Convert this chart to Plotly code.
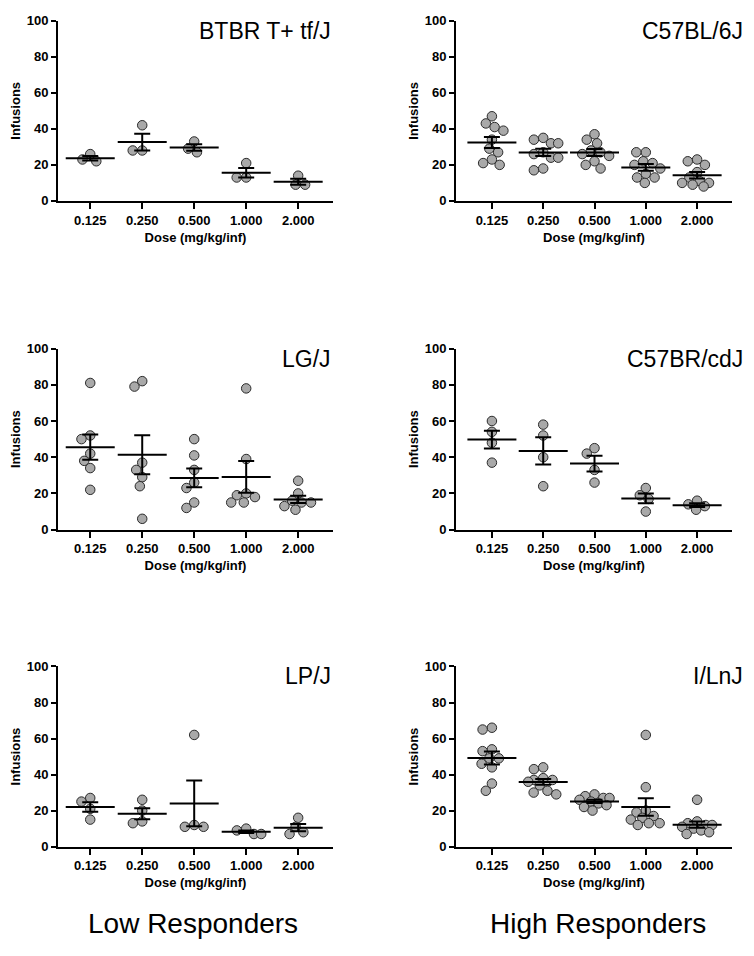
import numpy as np
import plotly.graph_objects as go

# ---------------- data ----------------
doses = ["0.125", "0.250", "0.500", "1.000", "2.000"]
strains = ["BTBR T+ tf/J", "C57BL/6J", "LG/J", "C57BR/cdJ", "LP/J", "I/LnJ"]
group_labels = ["Low Responders", "High Responders"]
y_ticks = [0, 20, 40, 60, 80, 100]

btbr = [[26, 22, 23], [42, 28, 28], [33, 27, 29], [21, 13, 13], [14, 9, 9]]
c57bl6 = [[47, 43, 41, 39, 34, 29, 27, 23, 21, 20],
          [35, 34, 32, 32, 27, 26, 24, 24, 18, 17],
          [37, 34, 32, 28, 27, 26, 25, 22, 20, 18],
          [27, 27, 22, 21, 20, 18, 15, 13, 13, 10],
          [23, 22, 20, 16, 13, 11, 10, 10, 9, 8]]
lgj = [[81, 52, 50, 42, 38, 34, 22],
       [82, 79, 37, 33, 29, 24, 6],
       [50, 41, 33, 26, 23, 15, 12],
       [78, 39, 20, 19, 18, 15, 15],
       [27, 20, 16, 15, 15, 13, 11]]
c57br = [[60, 54, 48, 37], [58, 52, 40, 24], [45, 42, 33, 26], [23, 19, 17, 10], [16, 14, 13, 11]]
lpj = [[27, 25, 21, 15], [26, 20, 14, 13], [62, 12, 11, 11], [10, 9, 7, 7], [16, 11, 8, 7]]
ilnj = [[66, 65, 54, 53, 49, 49, 46, 44, 35, 31],
        [44, 43, 38, 37, 37, 36, 34, 31, 30, 29],
        [29, 28, 27, 27, 26, 25, 24, 23, 22, 20],
        [62, 33, 20, 19, 17, 16, 15, 13, 13, 12],
        [26, 14, 13, 12, 12, 11, 10, 9, 8, 7]]

panels = [btbr, c57bl6, lgj, c57br, lpj, ilnj]

# ---------------- layout geometry ----------------
W, H = 754, 956
col_x = [(58, 333), (456, 732)]
row_y = [(14, 197), (347, 531), (670, 853)]
x_ranges = [[-0.62, 4.67], [-0.70, 4.68]]
DIAM = 9.5   # collision spacing (px) for the swarm layout
MAXW = 15.0  # maximum horizontal spread (px) of a column of points


def swarm_offsets(vals, px_per_unit_y, px_per_cat):
    """Compact beeswarm: x offsets (category units) for the values."""
    order = sorted(range(len(vals)), key=lambda i: -vals[i])
    placed = []
    offs = [0.0] * len(vals)

    def ok(c, y):
        return all((c - px) ** 2 + (y - py) ** 2 >= DIAM ** 2 - 1e-6 for px, py in placed)

    for i in order:
        y = vals[i] * px_per_unit_y
        cands = [0.0]
        for (px, py) in placed:
            dy = abs(py - y)
            if dy < DIAM:
                dx = np.sqrt(DIAM ** 2 - dy ** 2) + 0.01
                cands += [px + dx, px - dx]
        cands = sorted([c for c in cands if abs(c) <= MAXW], key=lambda c: (abs(c), c))
        best = None
        for c in cands:
            if ok(c, y):
                best = c
                break
        if best is None:
            grid = np.linspace(-MAXW, MAXW, 61)
            score = [min(np.hypot(g - px, y - py) for px, py in placed) - 0.01 * abs(g) for g in grid]
            best = float(grid[int(np.argmax(score))])
        placed.append((best, y))
        offs[i] = best
    return [o / px_per_cat for o in offs]


fig = go.Figure()
FONT = "Liberation Sans, Arial, sans-serif"

for k, (name, data) in enumerate(zip(strains, panels)):
    r, c = divmod(k, 2)
    ax = "" if k == 0 else str(k + 1)
    x0, x1 = col_x[c]
    yt, yb = row_y[r]
    xr = x_ranges[c]
    px_per_cat = (x1 - x0) / (xr[1] - xr[0])
    px_per_unit = (yb - yt) / 100.0

    xs, ys = [], []
    for j, vals in enumerate(data):
        offs = swarm_offsets(vals, px_per_unit, px_per_cat)
        xs += [j + o for o in offs]
        ys += vals
    fig.add_trace(go.Scatter(
        x=xs, y=ys, mode="markers", xaxis="x" + ax, yaxis="y" + ax,
        marker=dict(size=9.5, color="#a9a9a9", line=dict(color="#2b2b2b", width=1)),
        showlegend=False, hoverinfo="y", cliponaxis=False))

    means = [float(np.mean(v)) for v in data]
    sems = [float(np.std(v, ddof=1) / np.sqrt(len(v))) for v in data]
    fig.add_trace(go.Scatter(
        x=list(range(len(doses))), y=means, mode="markers", xaxis="x" + ax, yaxis="y" + ax,
        marker=dict(symbol="line-ew", size=35, color="black", line=dict(color="black", width=2)),
        error_y=dict(type="data", array=sems, visible=True, color="black", thickness=2, width=8),
        showlegend=False, cliponaxis=False))

    common = dict(showline=True, linecolor="black", linewidth=2, ticks="outside",
                  tickwidth=2, tickcolor="black", showgrid=False, zeroline=False,
                  tickfont=dict(family=FONT, size=13, color="black", weight="bold"))
    fig.layout["xaxis" + ax] = dict(
        domain=[x0 / W, x1 / W], anchor="y" + ax, range=xr,
        tickmode="array", tickvals=list(range(len(doses))), ticktext=doses, ticklen=6,
        title=dict(text="Dose (mg/kg/inf)", standoff=6,
                   font=dict(family=FONT, size=13, color="black", weight="bold")),
        **common)
    fig.layout["yaxis" + ax] = dict(
        domain=[1 - yb / H, 1 - yt / H], anchor="x" + ax, range=[0, 100],
        tickmode="array", tickvals=y_ticks, ticklen=5,
        title=dict(text="Infusions", standoff=3,
                   font=dict(family=FONT, size=13, color="black", weight="bold")),
        **common)
    fig.add_annotation(
        text=name, xref="x" + ax + " domain", yref="y" + ax + " domain",
        x=1, y=1, xanchor="right", yanchor="top", showarrow=False,
        xshift=(0 if c == 0 else 13), yshift=5,
        font=dict(family=FONT, size=23, color="black"))

label_cx = [193, 598]
for c, lab in enumerate(group_labels):
    fig.add_annotation(
        text=lab, xref="paper", yref="paper", x=label_cx[c] / W,
        y=1 - 931 / H, xanchor="center", yanchor="middle", showarrow=False,
        font=dict(family=FONT, size=28, color="black"))

fig.update_layout(width=W, height=H, margin=dict(l=0, r=0, t=0, b=0),
                  paper_bgcolor="white", plot_bgcolor="white")

fig.write_html("out.html", config={"displayModeBar": False},
               post_script="document.body.style.margin='0px';document.body.style.overflow='hidden';")
